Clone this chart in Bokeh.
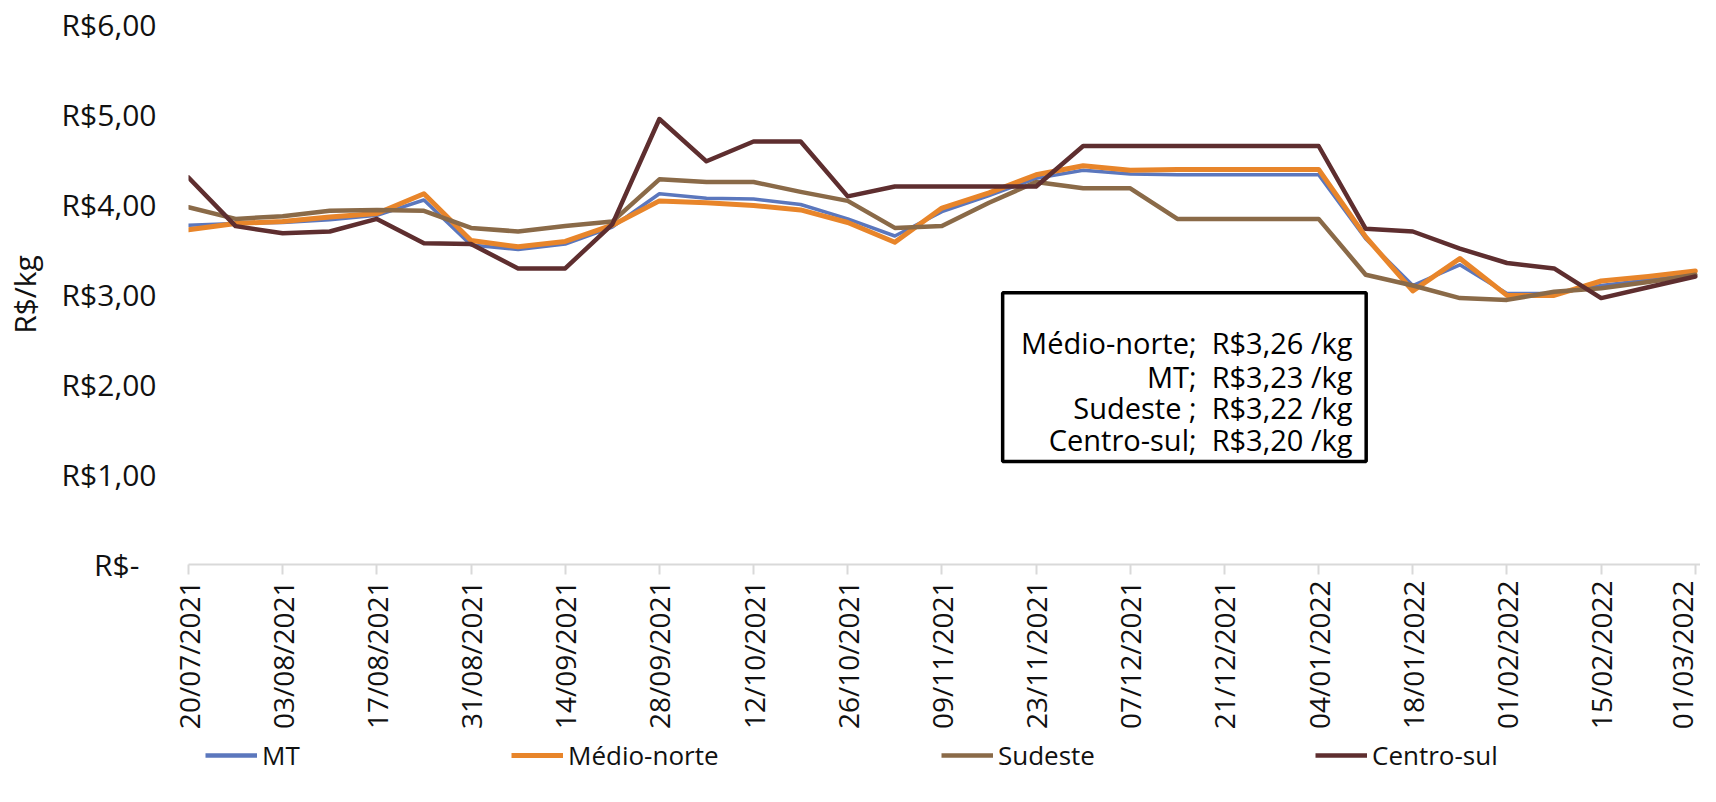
import math
from bokeh.plotting import figure
from bokeh.layouts import column
from bokeh.models import FixedTicker, Legend, LegendItem, BoxAnnotation, Label, Range1d
from bokeh.embed import file_html
from bokeh.resources import INLINE

# ---------------- data ----------------
dates = ["20/07/2021", "27/07/2021", "03/08/2021", "10/08/2021", "17/08/2021", "24/08/2021",
         "31/08/2021", "07/09/2021", "14/09/2021", "21/09/2021", "28/09/2021", "05/10/2021",
         "12/10/2021", "19/10/2021", "26/10/2021", "02/11/2021", "09/11/2021", "16/11/2021",
         "23/11/2021", "30/11/2021", "07/12/2021", "14/12/2021", "21/12/2021", "28/12/2021",
         "04/01/2022", "11/01/2022", "18/01/2022", "25/01/2022", "01/02/2022", "08/02/2022",
         "15/02/2022", "22/02/2022", "01/03/2022"]

mt = [3.77, 3.79, 3.80, 3.83, 3.88, 4.05, 3.55, 3.50, 3.56, 3.75, 4.12, 4.07, 4.06, 4.00,
      3.84, 3.65, 3.92, 4.10, 4.29, 4.38, 4.34, 4.33, 4.33, 4.33, 4.33, 3.62, 3.10, 3.33,
      3.01, 3.01, 3.10, 3.16, 3.23]
medio_norte = [3.72, 3.79, 3.81, 3.86, 3.90, 4.12, 3.60, 3.53, 3.59, 3.77, 4.04, 4.02, 3.99,
               3.94, 3.80, 3.58, 3.96, 4.13, 4.33, 4.43, 4.38, 4.39, 4.39, 4.39, 4.39, 3.64,
               3.04, 3.40, 2.99, 2.99, 3.15, 3.20, 3.26]
sudeste = [3.97, 3.84, 3.87, 3.93, 3.94, 3.93, 3.74, 3.70, 3.76, 3.81, 4.28, 4.25, 4.25, 4.14,
           4.04, 3.74, 3.76, 4.02, 4.25, 4.18, 4.18, 3.84, 3.84, 3.84, 3.84, 3.22, 3.10, 2.96,
           2.94, 3.03, 3.07, 3.14, 3.22]
centro_sul = [4.30, 3.76, 3.68, 3.70, 3.84, 3.57, 3.56, 3.29, 3.29, 3.78, 4.95, 4.48, 4.70,
              4.70, 4.09, 4.20, 4.20, 4.20, 4.20, 4.65, 4.65, 4.65, 4.65, 4.65, 4.65, 3.73,
              3.70, 3.51, 3.35, 3.29, 2.96, 3.08, 3.20]

series_names = ["MT", "Médio-norte", "Sudeste", "Centro-sul"]
y_ticks = [0, 1, 2, 3, 4, 5, 6]
y_tick_labels = ["R$-\u2007", "R$1,00", "R$2,00", "R$3,00", "R$4,00", "R$5,00", "R$6,00"]
note_lines = ["Médio-norte;\u00a0 R$3,26 /kg", "MT;\u00a0 R$3,23 /kg",
              "Sudeste ;\u00a0 R$3,22 /kg", "Centro-sul;\u00a0 R$3,20 /kg"]

# ---------------- style ----------------
FONT = "Open Sans"
colors = ["#5B77BD", "#E8852A", "#8A6A48", "#5E2E2F"]
widths = [3.5, 5, 4.5, 4.5]
TXT = "#111111"

x = list(range(len(dates)))
series = [mt, medio_norte, sudeste, centro_sul]

p = figure(width=1700, height=734, output_backend="svg", toolbar_location=None,
           x_range=Range1d(0, 32.11), y_range=Range1d(0, 6),
           min_border_left=178, min_border_right=0, min_border_top=24, min_border_bottom=170)
p.xgrid.visible = False
p.ygrid.visible = False
p.outline_line_color = None
p.background_fill_color = "white"

# x axis
xa = p.xaxis[0]
xa.ticker = FixedTicker(ticks=list(range(0, len(dates), 2)))
xa.major_label_overrides = {i: dates[i] for i in range(0, len(dates), 2)}
xa.major_label_orientation = math.pi / 2
xa.axis_line_color = "#D9D9D9"
xa.axis_line_width = 2
xa.major_tick_line_color = "#D9D9D9"
xa.major_tick_line_width = 2
xa.major_tick_out = 10
xa.major_tick_in = 0
xa.minor_tick_line_color = None
xa.major_label_standoff = 6
xa.major_label_text_font = FONT
xa.major_label_text_font_size = "28px"
xa.major_label_text_color = TXT

# y axis
ya = p.yaxis[0]
ya.ticker = FixedTicker(ticks=y_ticks)
ya.major_label_overrides = {t: l for t, l in zip(y_ticks, y_tick_labels)}
ya.axis_line_color = None
ya.major_tick_line_color = None
ya.minor_tick_line_color = None
ya.major_tick_out = 0
ya.major_tick_in = 0
ya.major_label_standoff = 32
ya.major_label_text_font = FONT
ya.major_label_text_font_size = "30px"
ya.major_label_text_color = TXT
ya.axis_label = "R$/kg"
ya.axis_label_text_font = FONT
ya.axis_label_text_font_size = "30px"
ya.axis_label_text_font_style = "normal"
ya.axis_label_text_color = TXT
ya.axis_label_standoff = 14

for vals, c, w in zip(series, colors, widths):
    p.line(x, vals, line_color=c, line_width=w, line_join="round", line_cap="round")

# annotation box
box = BoxAnnotation(left=17.29, right=25.01, bottom=1.144, top=3.02, fill_color="white",
                    fill_alpha=1.0, line_color="black", line_alpha=1.0, line_width=3.5)
p.add_layout(box)
for txt, yy in zip(note_lines, [2.463, 2.093, 1.747, 1.389]):
    p.add_layout(Label(x=24.72, y=yy, text=txt, text_align="right", text_baseline="middle",
                       text_font=FONT, text_font_size="29px", text_color="#000000"))

# ---------------- legend strip ----------------
leg = figure(width=1700, height=52, output_backend="svg", toolbar_location=None,
             x_axis_type=None, y_axis_type=None, x_range=Range1d(0, 32.11),
             y_range=Range1d(100, 101),
             min_border_left=178, min_border_right=0, min_border_top=0, min_border_bottom=0)
leg.xgrid.visible = False
leg.ygrid.visible = False
leg.outline_line_color = None

legend_x = [17, 323, 753, 1127]
for name, vals, c, w, lx in zip(series_names, series, colors, widths, legend_x):
    # the series drawn again (outside the visible y range) only to feed the legend swatch
    r = leg.line(x, vals, line_color=c, line_width=max(w, 4.5), line_cap="butt")
    lg = Legend(items=[LegendItem(label=name, renderers=[r])], location=(lx, 13),
                orientation="horizontal", padding=0, margin=0, border_line_color=None,
                background_fill_alpha=0, glyph_width=52, glyph_height=36, label_height=36,
                label_standoff=5, label_text_font=FONT, label_text_font_size="26px",
                label_text_color=TXT)
    leg.add_layout(lg)

open("out.html", "w").write(file_html(column(p, leg), INLINE))
